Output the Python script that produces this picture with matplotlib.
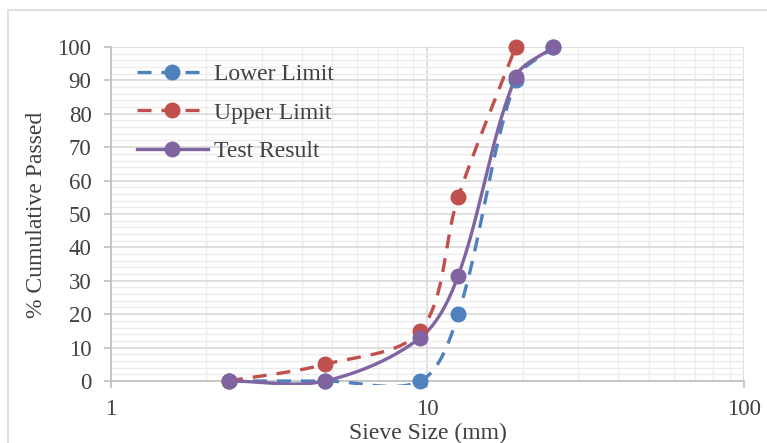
import matplotlib
matplotlib.use("Agg")
import matplotlib.pyplot as plt
import numpy as np
from matplotlib.patches import Rectangle

sieve_mm = [2.36, 4.75, 9.5, 12.5, 19, 25]
lower_limit = [0, 0, 0, 20, 90, 100]
upper_limit = [0, 5, 15, 55, 100]
test_result = [0, 0, 13, 31.5, 91, 100]

series_names = ["Lower Limit", "Upper Limit", "Test Result"]
series_colors = ["#4F81BD", "#C0504D", "#8064A2"]
series_styles = [(0, (4.2, 3.0)), (0, (4.2, 3.0)), "-"]

plt.rcParams["font.family"] = ["Liberation Serif", "DejaVu Serif"]


def smooth_curve(xs, ys, width, height, n=40):
    """Сглаживание как в Excel: Безье с касательными, масштабированными по длинам отрезков."""
    u = np.log10(np.asarray(xs, float)) / 2 * width
    v = np.asarray(ys, float) / 100 * height
    pts = np.column_stack([u, v])
    pts = np.vstack([pts[0], pts, pts[-1]])
    out = []
    t = np.linspace(0, 1, n)[:, None]
    for i in range(1, len(pts) - 2):
        p0, p1, p2, p3 = pts[i - 1], pts[i], pts[i + 1], pts[i + 2]
        d01 = np.hypot(*(p1 - p0))
        d12 = np.hypot(*(p2 - p1))
        d23 = np.hypot(*(p3 - p2))
        f1 = d12 / (d01 + d12) / 3 if d01 + d12 > 0 else 0
        f2 = d12 / (d12 + d23) / 3 if d12 + d23 > 0 else 0
        c1 = p1 + (p2 - p0) * f1
        c2 = p2 - (p3 - p1) * f2
        seg = ((1 - t) ** 3) * p1 + 3 * ((1 - t) ** 2) * t * c1 \
            + 3 * (1 - t) * t ** 2 * c2 + t ** 3 * p2
        out.append(seg)
    curve = np.vstack(out)
    return 10 ** (curve[:, 0] / width * 2), curve[:, 1] / height * 100


fig = plt.figure(figsize=(7.67, 4.43), dpi=100)
ax = fig.add_axes([0.1447, 0.140, 0.8253, 0.754])

fig.patches.append(Rectangle((8 / 767, -0.05), 1.1, 1 - 10 / 443 + 0.05,
                             transform=fig.transFigure, fill=False,
                             edgecolor="#D9D9D9", linewidth=1.2, zorder=0))

ax.set_xscale("log")
ax.set_xlim(1, 100)
ax.set_ylim(0, 100)

# область отсечения чуть ниже нуля, как у Excel
clip_rect = Rectangle((0, -0.011), 1, 1.06, transform=ax.transAxes,
                      facecolor="none", edgecolor="none")
ax.add_patch(clip_rect)

for name, ys, color, ls in zip(series_names,
                               [lower_limit, upper_limit, test_result],
                               series_colors, series_styles):
    xs = sieve_mm[:len(ys)]
    cx, cy = smooth_curve(xs, ys, 633, 334)
    line, = ax.plot(cx, cy, color=color, linestyle=ls, linewidth=2.4,
                    zorder=3)
    line.set_clip_path(clip_rect)
    ax.plot(xs, ys, linestyle="none", marker="o", markersize=10.5,
            color=color, clip_on=False, zorder=4)
    ax.plot([], [], color=color, linestyle=ls, linewidth=2.4, marker="o",
            markersize=10.5, label=name)

ax.set_yticks(np.arange(0, 101, 10))
ax.set_yticks(np.arange(0, 101, 2), minor=True)
ax.set_xticks([1, 10, 100])
ax.set_xticklabels(["1", "10", "100"])

ax.grid(which="major", color="#D9D9D9", linewidth=1.2)
ax.grid(which="minor", color="#ECECEC", linewidth=1.0)
ax.set_axisbelow(True)

for side in ["top", "right"]:
    ax.spines[side].set_visible(False)
for side in ["left", "bottom"]:
    ax.spines[side].set_color("#BFBFBF")
    ax.spines[side].set_linewidth(1.2)

ax.tick_params(axis="both", which="major", labelsize=16.5, colors="#BFBFBF",
               labelcolor="#404040", length=5, width=1.2)
ax.tick_params(axis="both", which="minor", length=0)
ax.tick_params(axis="x", pad=8)
ax.tick_params(axis="y", pad=9)

ax.set_xlabel("Sieve Size (mm)", fontsize=17, color="#404040")
ax.set_ylabel("% Cumulative Passed", fontsize=17, color="#404040")
ax.xaxis.set_label_coords(0.5, -0.125)
ax.yaxis.set_label_coords(-0.101, 0.497)

ax.legend(loc="upper left", bbox_to_anchor=(0.041, 0.95), frameon=False,
          fontsize=17, labelcolor="#404040", handlelength=3.0,
          handletextpad=0.25, labelspacing=0.72, borderaxespad=0,
          borderpad=0)

fig.savefig("out.png", dpi=100)
